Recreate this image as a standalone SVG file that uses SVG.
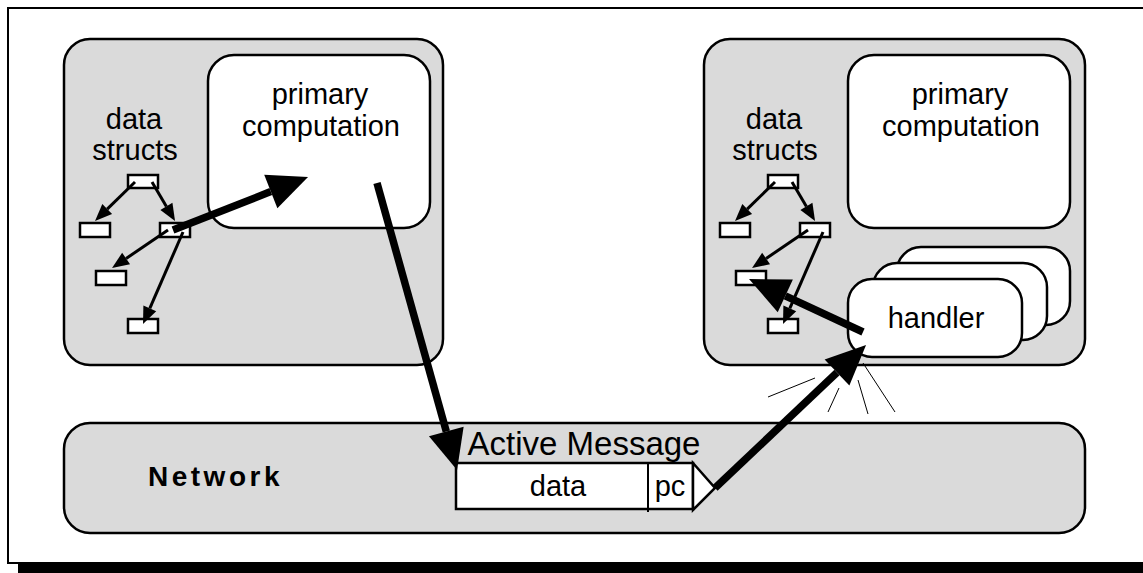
<svg xmlns="http://www.w3.org/2000/svg" width="1143" height="573" viewBox="0 0 1143 573">
  <style>
    .txt { font-family: "Liberation Sans", Arial, sans-serif; font-size: 29px; fill: #000; text-anchor: middle; }
    .big { font-size: 33px; }
    .proc { fill: #dadada; stroke: #000; stroke-width: 2.5; }
    .box { fill: #fff; stroke: #000; stroke-width: 2.5; }
    .cell { fill: #fff; stroke: #000; stroke-width: 2.5; }
    .thin { fill: none; stroke: #000; stroke-width: 3; marker-end: url(#smallHead); }
    .thick { fill: none; stroke: #000; stroke-width: 7.5; marker-end: url(#bigHead); }
    .spark { fill: none; stroke: #000; stroke-width: 1; }
  </style>
  <defs>
    <marker id="smallHead" markerUnits="userSpaceOnUse" markerWidth="18" markerHeight="14" refX="0" refY="7" orient="auto" overflow="visible">
      <path d="M0,0 L17,7 L0,14 z" fill="#000"/>
    </marker>
    <marker id="bigHead" markerUnits="userSpaceOnUse" markerWidth="41" markerHeight="37" refX="0" refY="18" orient="auto" overflow="visible">
      <path d="M0,0 L40,18 L0,36 z" fill="#000"/>
    </marker>
  </defs>

  <rect x="0" y="0" width="1143" height="573" fill="#fff"/>

  <!-- page frame with drop shadow bar -->
  <g id="frame">
    <rect x="8" y="8" width="1200" height="555" fill="none" stroke="#000" stroke-width="2"/>
    <rect x="18" y="563" width="1125" height="10" fill="#000"/>
  </g>

  <!-- left processor -->
  <g id="proc-left">
    <rect class="proc" x="64" y="39" width="379" height="326" rx="26"/>
  </g>
  <g id="comp-left">
    <rect class="box" x="208" y="55" width="222" height="173" rx="26"/>
    <text class="txt" x="320" y="104">primary</text>
    <text class="txt" x="321" y="136">computation</text>
  </g>
  <g id="structs-left">
    <text class="txt" x="134" y="129">data</text>
    <text class="txt" x="135" y="160">structs</text>
    <rect class="cell" x="128" y="175" width="30" height="13"/>
    <rect class="cell" x="80" y="223" width="30" height="14"/>
    <rect class="cell" x="160" y="223" width="30" height="14"/>
    <rect class="cell" x="96" y="271" width="30" height="14"/>
    <rect class="cell" x="128" y="319" width="30" height="14"/>
  </g>

  <!-- right processor -->
  <g id="proc-right">
    <rect class="proc" x="704" y="39" width="381" height="326" rx="26"/>
  </g>
  <g id="comp-right">
    <rect class="box" x="848" y="55" width="222" height="173" rx="26"/>
    <text class="txt" x="960" y="104">primary</text>
    <text class="txt" x="961" y="136">computation</text>
  </g>
  <g id="structs-right">
    <text class="txt" x="774" y="129">data</text>
    <text class="txt" x="775" y="160">structs</text>
    <rect class="cell" x="768" y="175" width="30" height="13"/>
    <rect class="cell" x="720" y="223" width="30" height="14"/>
    <rect class="cell" x="800" y="223" width="30" height="14"/>
    <rect class="cell" x="736" y="271" width="30" height="14"/>
    <rect class="cell" x="768" y="319" width="30" height="14"/>
  </g>
  <g id="handlers">
    <rect class="box" x="897" y="247" width="173" height="78" rx="24"/>
    <rect class="box" x="873" y="263" width="174" height="77" rx="24"/>
    <rect class="box" x="848" y="279" width="174" height="78" rx="24"/>
    <text class="txt" x="936" y="328">handler</text>
  </g>

  <!-- network -->
  <g id="network">
    <rect class="proc" x="64" y="423" width="1021" height="110" rx="26"/>
    <text x="148" y="486" font-family="Liberation Sans, Arial, sans-serif" font-size="28" font-weight="bold" letter-spacing="3.5">Network</text>
  </g>
  <g id="message">
    <text class="txt big" x="584" y="455">Active Message</text>
    <rect x="456" y="463" width="237" height="46" fill="#fff" stroke="#000" stroke-width="2.5"/>
    <line x1="648" y1="463" x2="648" y2="512" stroke="#000" stroke-width="2"/>
    <path d="M693,463 L715,488 L693,510 z" fill="#fff" stroke="#000" stroke-width="2.5" stroke-linejoin="miter"/>
    <text class="txt" x="558" y="496">data</text>
    <text class="txt" x="670" y="496">pc</text>
  </g>

  <!-- sparks where the message lands -->
  <g id="sparks">
    <line class="spark" x1="815" y1="378" x2="768" y2="397"/>
    <line class="spark" x1="839" y1="388" x2="828" y2="412"/>
    <line class="spark" x1="858" y1="380" x2="868" y2="414"/>
    <line class="spark" x1="863" y1="363" x2="895" y2="412"/>
  </g>

  <!-- connectors -->
  <g id="connectors">
    <line class="thin" x1="135" y1="182" x2="107.2" y2="209.1"/>
    <line class="thin" x1="152" y1="182" x2="166.4" y2="206.4"/>
    <line class="thin" x1="168" y1="230" x2="126.1" y2="258.5"/>
    <line class="thin" x1="183" y1="232" x2="149.8" y2="308.4"/>

    <line class="thin" x1="775" y1="182" x2="747.2" y2="209.1"/>
    <line class="thin" x1="792" y1="182" x2="806.4" y2="206.4"/>
    <line class="thin" x1="808" y1="230" x2="766.1" y2="258.5"/>
    <line class="thin" x1="823" y1="232" x2="789.8" y2="308.4"/>

    <line class="thick" x1="173" y1="230" x2="270.8" y2="191.6"/>
    <line class="thick" x1="377" y1="183" x2="446.3" y2="431.5"/>
    <line class="thick" x1="715" y1="488" x2="837" y2="372.5"/>
    <line class="thick" x1="863" y1="332" x2="785.3" y2="295.9"/>
  </g>
</svg>
